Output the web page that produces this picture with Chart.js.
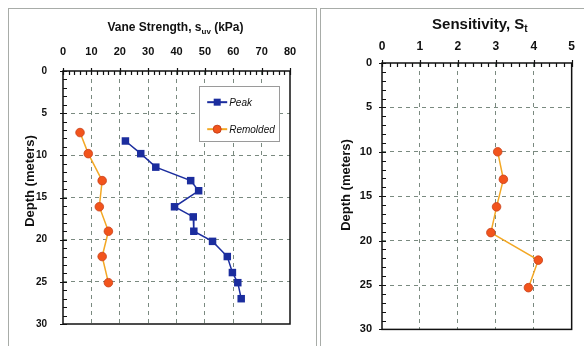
<!DOCTYPE html>
<html>
<head>
<meta charset="utf-8">
<script src="https://cdn.jsdelivr.net/npm/chart.js@4"></script>
<style>
  body { margin: 0; background: #fff; width: 584px; height: 346px; position: relative; overflow: hidden; }
  .panel { position: absolute; border: 1px solid #a8aca8; box-sizing: border-box; }
  canvas { position: absolute; top: 0; }
</style>
</head>
<body>
<div class="panel" style="left:8px;top:8px;width:309px;height:350px;"></div>
<div class="panel" style="left:320px;top:8px;width:280px;height:350px;"></div>
<canvas id="vaneChart" style="left:0" width="318" height="346"></canvas>
<canvas id="sensChart" style="left:318px" width="266" height="346"></canvas>
<script>
// data
const peakDepth = [8.3, 9.8, 11.4, 13.0, 14.2, 16.1, 17.3, 19.0, 20.2, 22.0, 23.9, 25.1, 27.0];
const peakSu = [22.0, 27.4, 32.7, 45.0, 47.8, 39.3, 45.9, 46.1, 52.7, 57.9, 59.7, 61.6, 62.8];
const remDepth = [7.3, 9.8, 13.0, 16.1, 19.0, 22.0, 25.1];
const remSu = [6.0, 8.9, 13.8, 12.8, 16.0, 13.8, 16.0];
const sensDepth = [10.0, 13.1, 16.2, 19.1, 22.2, 25.3];
const sensSt = [3.05, 3.2, 3.02, 2.87, 4.12, 3.86];

const FONT = "Arial, 'Liberation Sans', sans-serif";
const BLUE = '#1b2d9e';
const ORANGE_LINE = '#f3a825';
const ORANGE_PT = '#f2541c';
const GRID = '#7a8a80';

function toPoints(xs, ys) {
  return xs.map((x, i) => ({ x: x, y: ys[i] }));
}

/*--------------------- frame, minor ticks, titles ---------------------*/
function framePlugin(opts) {
  return {
    id: 'frame',
    afterDraw(chart) {
      const ctx = chart.ctx;
      const a = chart.chartArea;
      const xs = chart.scales.x, ys = chart.scales.y;
      ctx.save();
      ctx.strokeStyle = '#111';
      ctx.lineWidth = 1.5;
      ctx.strokeRect(a.left, a.top, a.right - a.left, a.bottom - a.top);

      ctx.lineWidth = 1.2;
      ctx.beginPath();
      // x ticks along the top
      for (let v = xs.min; v <= xs.max + 1e-9; v += opts.xMinor) {
        const px = Math.round(xs.getPixelForValue(v)) + 0.5;
        const major = Math.abs(v / opts.xMajor - Math.round(v / opts.xMajor)) < 1e-6;
        ctx.moveTo(px, a.top - (major ? 3 : 0));
        ctx.lineTo(px, a.top + 4);
      }
      // y ticks along the left
      for (let v = ys.min; v <= ys.max + 1e-9; v += opts.yMinor) {
        const py = Math.round(ys.getPixelForValue(v)) + 0.5;
        const major = v % opts.yMajor === 0;
        ctx.moveTo(a.left - (major ? 3 : 0), py);
        ctx.lineTo(a.left + 4, py);
      }
      ctx.stroke();

      // top title
      ctx.fillStyle = '#111';
      ctx.textBaseline = 'alphabetic';
      const t = opts.title;
      ctx.font = 'bold ' + t.size + 'px ' + FONT;
      const w1 = ctx.measureText(t.main).width;
      const w3 = ctx.measureText(t.tail).width;
      ctx.font = 'bold ' + t.subSize + 'px ' + FONT;
      const w2 = ctx.measureText(t.sub).width;
      let x = (a.left + a.right) / 2 + t.dx - (w1 + w2 + w3) / 2;
      ctx.font = 'bold ' + t.size + 'px ' + FONT;
      ctx.fillText(t.main, x, t.y);
      x += w1;
      ctx.font = 'bold ' + t.subSize + 'px ' + FONT;
      ctx.fillText(t.sub, x, t.y + 3);
      x += w2;
      ctx.font = 'bold ' + t.size + 'px ' + FONT;
      ctx.fillText(t.tail, x, t.y);

      // y axis title
      ctx.save();
      ctx.translate(opts.yTitleX, opts.yTitleY);
      ctx.rotate(-Math.PI / 2);
      ctx.font = 'bold 13px ' + FONT;
      ctx.textAlign = 'center';
      ctx.textBaseline = 'middle';
      ctx.fillText('Depth (meters)', 0, 0);
      ctx.restore();

      // legend box
      if (opts.legend) {
        const lx = xs.getPixelForValue(48);
        const rx = xs.getPixelForValue(76.3);
        const ty = ys.getPixelForValue(1.8);
        const by = ys.getPixelForValue(8.3);
        ctx.fillStyle = '#fff';
        ctx.fillRect(lx, ty, rx - lx, by - ty);
        ctx.strokeStyle = '#9a9a9a';
        ctx.lineWidth = 1;
        ctx.strokeRect(Math.round(lx) + 0.5, Math.round(ty) + 0.5, Math.round(rx - lx), Math.round(by - ty));
        chart.data.datasets.forEach((ds, i) => {
          const cy = ty + 16 + i * 27;
          ctx.strokeStyle = ds.borderColor;
          ctx.lineWidth = 2;
          ctx.beginPath();
          ctx.moveTo(lx + 8, cy);
          ctx.lineTo(lx + 28, cy);
          ctx.stroke();
          ctx.fillStyle = ds.pointBackgroundColor;
          ctx.strokeStyle = ds.pointBorderColor;
          ctx.lineWidth = 1;
          if (ds.pointStyle === 'rect') {
            ctx.fillRect(lx + 14.5, cy - 3.5, 7, 7);
          } else {
            ctx.beginPath();
            ctx.arc(lx + 18, cy, 4, 0, Math.PI * 2);
            ctx.fill();
            ctx.stroke();
          }
          ctx.fillStyle = '#111';
          ctx.font = 'italic 10px ' + FONT;
          ctx.textAlign = 'left';
          ctx.textBaseline = 'middle';
          ctx.fillText(ds.label, lx + 30, cy + 1);
        });
      }
      ctx.restore();
    }
  };
}

function gridColor(max) {
  return (c) => (c.tick.value === 0 || c.tick.value === max) ? 'rgba(0,0,0,0)' : GRID;
}

function makeScales(xMax, xStep, yWidth, xHeight, yPad, xPad, xTickSize, yTickSize) {
  return {
    x: {
      type: 'linear',
      position: 'top',
      min: 0, max: xMax,
      ticks: { stepSize: xStep, padding: xPad, color: '#111', font: { family: FONT, size: xTickSize, weight: 'bold' } },
      grid: { color: gridColor(xMax), drawTicks: false, lineWidth: 1 },
      border: { display: false, dash: [4, 4] },
      afterFit: (s) => { s.height = xHeight; }
    },
    y: {
      type: 'linear',
      reverse: true,
      min: 0, max: 30,
      ticks: { stepSize: 5, padding: yPad, color: '#111', font: { family: FONT, size: yTickSize, weight: 'bold' } },
      grid: { color: gridColor(30), drawTicks: false, lineWidth: 1 },
      border: { display: false, dash: [4, 4] },
      afterFit: (s) => { s.width = yWidth; }
    }
  };
}

/*--------------------- Vane strength ---------------------*/
new Chart(document.getElementById('vaneChart'), {
  type: 'scatter',
  data: {
    datasets: [
      {
        label: 'Peak',
        data: toPoints(peakSu, peakDepth),
        showLine: true,
        borderColor: BLUE,
        borderWidth: 1.5,
        pointStyle: 'rect',
        pointRadius: 5.3,
        pointBackgroundColor: BLUE,
        pointBorderColor: BLUE,
        pointBorderWidth: 0
      },
      {
        label: 'Remolded',
        data: toPoints(remSu, remDepth),
        showLine: true,
        borderColor: ORANGE_LINE,
        borderWidth: 1.5,
        pointStyle: 'circle',
        pointRadius: 4.3,
        pointBackgroundColor: ORANGE_PT,
        pointBorderColor: '#c8401a',
        pointBorderWidth: 0.8
      }
    ]
  },
  options: {
    responsive: false,
    animation: false,
    layout: { padding: { left: 0, top: 0, right: 28, bottom: 11 } },
    plugins: { legend: { display: false }, tooltip: { enabled: false } },
    scales: makeScales(80, 10, 63, 71, 16, 12, 11, 10)
  },
  plugins: [framePlugin({
    xMinor: 2, xMajor: 10, yMinor: 1, yMajor: 5,
    title: { main: 'Vane Strength, s', sub: 'uv', tail: ' (kPa)', size: 12, subSize: 8, y: 31, dx: -1 },
    yTitleX: 30, yTitleY: 181,
    legend: true
  })]
});

/*--------------------- Sensitivity ---------------------*/
new Chart(document.getElementById('sensChart'), {
  type: 'scatter',
  data: {
    datasets: [
      {
        label: 'Sensitivity',
        data: toPoints(sensSt, sensDepth),
        showLine: true,
        borderColor: ORANGE_LINE,
        borderWidth: 1.5,
        pointStyle: 'circle',
        pointRadius: 4.3,
        pointBackgroundColor: ORANGE_PT,
        pointBorderColor: '#c8401a',
        pointBorderWidth: 0.8
      }
    ]
  },
  options: {
    responsive: false,
    animation: false,
    layout: { padding: { left: 0, top: 0, right: 12, bottom: 13 } },
    plugins: { legend: { display: false }, tooltip: { enabled: false } },
    scales: makeScales(5, 1, 64, 63, 10, 9, 12, 11)
  },
  plugins: [framePlugin({
    xMinor: 0.2, xMajor: 1, yMinor: 1, yMajor: 5,
    title: { main: 'Sensitivity, S', sub: 't', tail: '', size: 15, subSize: 10, y: 29, dx: 3 },
    yTitleX: 28, yTitleY: 185,
    legend: false
  })]
});
</script>
</body>
</html>
